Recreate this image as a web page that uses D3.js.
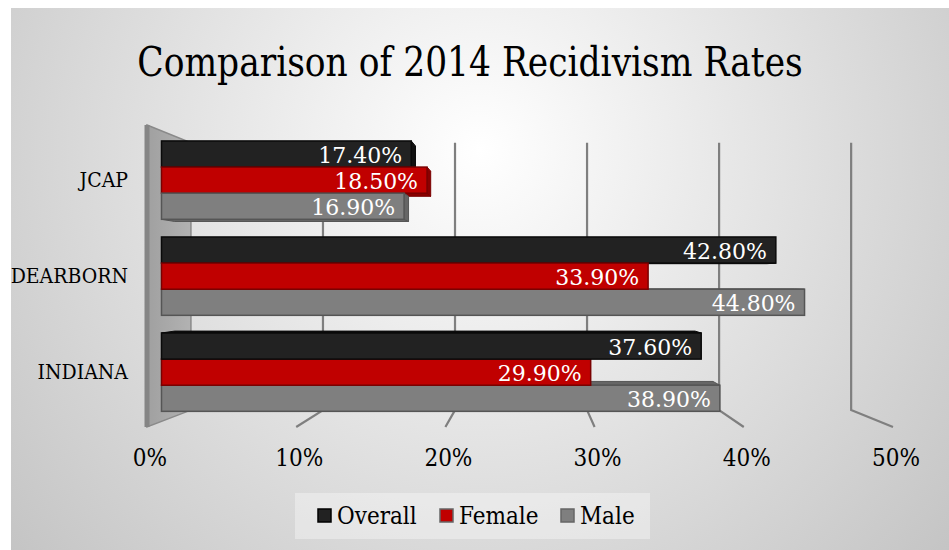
<!DOCTYPE html>
<html>
<head>
<meta charset="utf-8">
<script src="https://cdn.jsdelivr.net/npm/d3@7"></script>
<style>
  html, body { margin: 0; padding: 0; background: #fff; }
  svg { display: block; }
  .serif { font-family: "DejaVu Serif Condensed", "DejaVu Serif", serif; font-stretch: condensed; }
</style>
</head>
<body>
<script>
'use strict';

// chart data
var categories = ['JCAP', 'DEARBORN', 'INDIANA'];
var seriesNames = ['Overall', 'Female', 'Male'];
var overall = [0.174, 0.428, 0.376];
var female = [0.185, 0.339, 0.299];
var male = [0.169, 0.448, 0.389];
var tickValues = [0, 0.1, 0.2, 0.3, 0.4, 0.5];
var colors = { Overall: '#222222', Female: '#c00000', Male: '#7f7f7f' };
var edgeColors = { Overall: '#0a0a0a', Female: '#7a0000', Male: '#555555' };
var sideColors = { Overall: '#111111', Female: '#8a0000', Male: '#666666' };

var width = 949, height = 550;

// 3d look: vanishing point and depth shrink
var vx = 529, vy = 280;
function shrink(t) { return 1 - 0.115 * t; }
function P(x, y, t) {
    var s = shrink(t);
    return [vx + (x - vx) * s, vy + (y - vy) * s];
}

var svg = d3.select('body').append('svg')
    .attr('width', width)
    .attr('height', height);

var defs = svg.append('defs');
var bg = defs.append('radialGradient')
    .attr('id', 'bg')
    .attr('gradientUnits', 'userSpaceOnUse')
    .attr('cx', 480).attr('cy', 150).attr('r', 620);
bg.append('stop').attr('offset', '0%').attr('stop-color', '#ffffff');
bg.append('stop').attr('offset', '100%').attr('stop-color', '#c4c4c4');

var wallGrad = defs.append('linearGradient')
    .attr('id', 'wall')
    .attr('x1', '0%').attr('x2', '100%');
wallGrad.append('stop').attr('offset', '0%').attr('stop-color', '#a0a0a0');
wallGrad.append('stop').attr('offset', '100%').attr('stop-color', '#b2b2b2');

svg.append('rect')
    .attr('x', 11).attr('y', 8)
    .attr('width', width - 11).attr('height', height - 8)
    .attr('fill', 'url(#bg)');

// title (squeezed a bit, the original font is narrower)
svg.append('text')
    .attr('class', 'serif')
    .attr('transform', 'translate(470,76) scale(0.935,1)')
    .attr('text-anchor', 'middle')
    .style('font-size', '41px')
    .attr('fill', '#000')
    .text('Comparison of 2014 Recidivism Rates');

// scales in the front plane
var x = d3.scaleLinear().domain([0, 0.5]).range([147, 893]);
var yTop = 125, yFloor = 427;
var y = d3.scaleBand().domain(categories).range([yTop, yFloor])
    .paddingInner(0.184).paddingOuter(0.105);
var ySub = d3.scaleBand().domain(seriesNames).range([0, y.bandwidth()]);

var line = d3.line();
var g = svg.append('g');

// left wall
var wallPts = [P(x(0), yTop, 0), P(x(0), yTop, 1), P(x(0), yFloor, 1), P(x(0), yFloor, 0)];
g.append('path')
    .attr('d', line(wallPts) + 'Z')
    .attr('fill', 'url(#wall)')
    .attr('stroke', '#8a8a8a')
    .attr('stroke-width', 1.5);
g.append('path')
    .attr('d', line([P(x(0), yTop, 0), P(x(0), yFloor, 0)]))
    .attr('stroke', '#858585')
    .attr('stroke-width', 5);

// gridlines on back wall + floor
tickValues.slice(1).forEach(function(v) {
    g.append('path')
        .attr('d', line([P(x(v), yTop, 1), P(x(v), yFloor, 1), P(x(v), yFloor, 0)]))
        .attr('fill', 'none')
        .attr('stroke', '#7f7f7f')
        .attr('stroke-width', 2.2);
});

// bars as boxes
var t0 = 0.33, t1 = 0.63;
var bars = [];
categories.forEach(function(c, i) {
    var vals = { Overall: overall[i], Female: female[i], Male: male[i] };
    seriesNames.forEach(function(s) {
        var yt = y(c) + ySub(s);
        bars.push({ cat: c, series: s, value: vals[s], y0: yt, y1: yt + ySub.bandwidth() });
    });
});
// draw far-from-eye bars first
bars.sort(function(a, b) {
    return Math.abs((b.y0 + b.y1) / 2 - vy) - Math.abs((a.y0 + a.y1) / 2 - vy);
});

var barG = svg.append('g');
bars.forEach(function(d) {
    var xa = x(0), xb = x(d.value);
    var bg1 = barG.append('g');
    // top or bottom face
    if (d.y0 > vy) {
        bg1.append('path')
            .attr('d', line([P(xa, d.y0, t0), P(xa, d.y0, t1), P(xb, d.y0, t1), P(xb, d.y0, t0)]) + 'Z')
            .attr('fill', sideColors[d.series]).attr('stroke', edgeColors[d.series]).attr('stroke-width', 1);
    }
    if (d.y1 < vy) {
        bg1.append('path')
            .attr('d', line([P(xa, d.y1, t0), P(xa, d.y1, t1), P(xb, d.y1, t1), P(xb, d.y1, t0)]) + 'Z')
            .attr('fill', sideColors[d.series]).attr('stroke', edgeColors[d.series]).attr('stroke-width', 1);
    }
    // right end face
    if (xb < vx) {
        bg1.append('path')
            .attr('d', line([P(xb, d.y0, t0), P(xb, d.y0, t1), P(xb, d.y1, t1), P(xb, d.y1, t0)]) + 'Z')
            .attr('fill', sideColors[d.series]).attr('stroke', edgeColors[d.series]).attr('stroke-width', 1);
    }
    // front face
    var f0 = P(xa, d.y0, t0), f1 = P(xb, d.y1, t0);
    bg1.append('rect')
        .attr('x', f0[0]).attr('y', f0[1])
        .attr('width', f1[0] - f0[0]).attr('height', f1[1] - f0[1])
        .attr('fill', colors[d.series])
        .attr('stroke', edgeColors[d.series])
        .attr('stroke-width', 1.5);
    // data label
    bg1.append('text')
        .attr('x', f1[0] - 9)
        .attr('y', (f0[1] + f1[1]) / 2 + 1)
        .attr('text-anchor', 'end')
        .attr('dominant-baseline', 'central')
        .style('font-family', '"DejaVu Serif", serif')
        .style('font-size', '22px')
        .attr('fill', '#fff')
        .text(d3.format('.2%')(d.value));
});

// category labels
svg.append('g').selectAll('text')
    .data(categories)
    .enter()
    .append('text')
    .attr('class', 'serif')
    .attr('x', 128)
    .attr('y', function(c) { return P(x(0), y(c) + y.bandwidth() / 2, t0)[1]; })
    .attr('text-anchor', 'end')
    .attr('dominant-baseline', 'central')
    .style('font-size', '21px')
    .text(function(c) { return c; });

// x tick labels at the front edge
svg.append('g').selectAll('text')
    .data(tickValues)
    .enter()
    .append('text')
    .attr('class', 'serif')
    .attr('x', function(v) { return x(v) + 3; })
    .attr('y', 458)
    .attr('text-anchor', 'middle')
    .attr('dominant-baseline', 'central')
    .style('font-size', '24px')
    .text(function(v) { return d3.format('.0%')(v); });

// legend
var legend = svg.append('g');
legend.append('rect')
    .attr('x', 295).attr('y', 493)
    .attr('width', 355).attr('height', 46)
    .attr('fill', '#ffffff').attr('fill-opacity', 0.35);
var legendX = [318, 440, 561];
seriesNames.forEach(function(s, i) {
    legend.append('rect')
        .attr('x', legendX[i]).attr('y', 509)
        .attr('width', 13).attr('height', 13)
        .attr('fill', colors[s])
        .attr('stroke', s === 'Overall' ? '#000' : '#666')
        .attr('stroke-width', 1.5);
    legend.append('text')
        .attr('class', 'serif')
        .attr('x', legendX[i] + 19).attr('y', 516)
        .attr('dominant-baseline', 'central')
        .style('font-size', '24px')
        .text(s);
});
</script>
</body>
</html>
